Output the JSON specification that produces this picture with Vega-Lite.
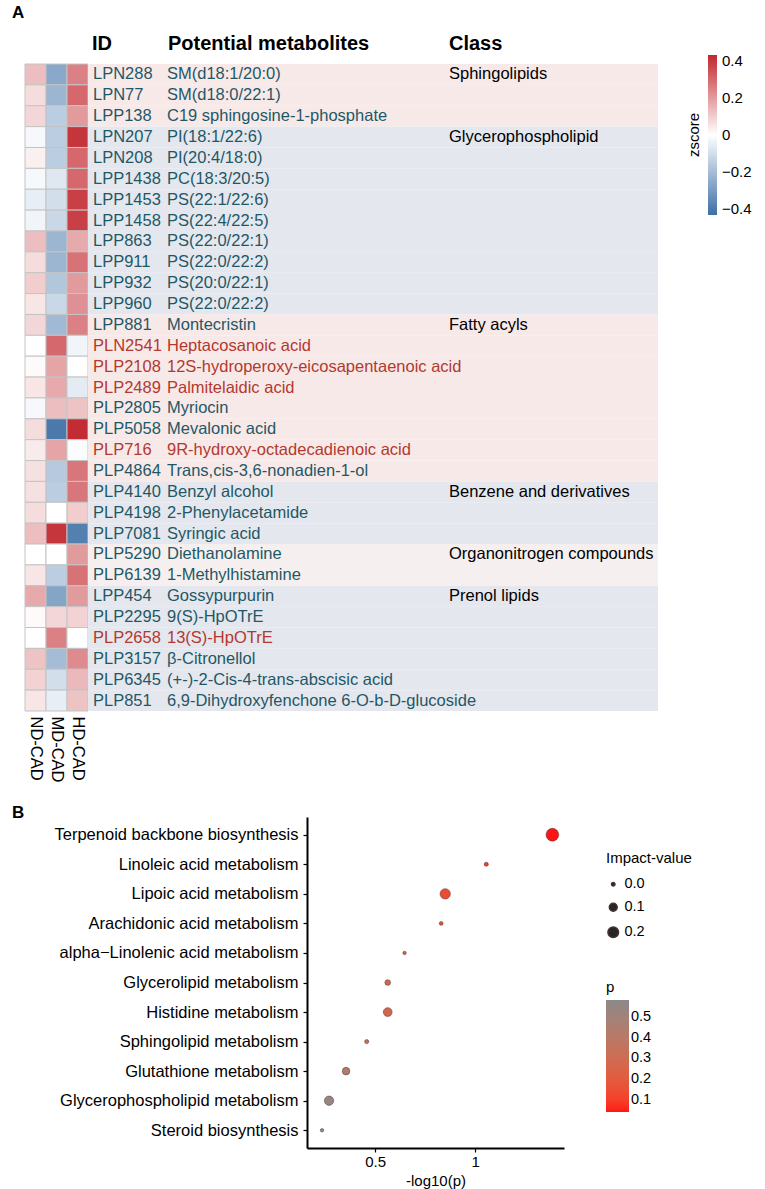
{
  "$schema": "https://vega.github.io/schema/vega-lite/v6.json",
  "padding": {"left": 12, "top": 4, "right": 2, "bottom": 2},
  "background": "white",
  "config": {
    "font": "Liberation Sans",
    "view": {"stroke": null},
    "axis": {"labelFont": "Liberation Sans", "titleFont": "Liberation Sans", "grid": false},
    "legend": {"labelFont": "Liberation Sans", "titleFont": "Liberation Sans"},
    "title": {"font": "Liberation Sans", "color": "black"}
  },
  "datasets": {
    "mets": [
      {"id": "LPN288", "name": "SM(d18:1/20:0)", "class": "Sphingolipids", "hl": "N", "ND-CAD": 0.13, "MD-CAD": -0.26, "HD-CAD": 0.25},
      {"id": "LPN77", "name": "SM(d18:0/22:1)", "class": "Sphingolipids", "hl": "N", "ND-CAD": 0.07, "MD-CAD": -0.22, "HD-CAD": 0.30},
      {"id": "LPP138", "name": "C19 sphingosine-1-phosphate", "class": "Sphingolipids", "hl": "N", "ND-CAD": 0.08, "MD-CAD": -0.15, "HD-CAD": 0.20},
      {"id": "LPN207", "name": "PI(18:1/22:6)", "class": "Glycerophospholipid", "hl": "N", "ND-CAD": -0.02, "MD-CAD": -0.15, "HD-CAD": 0.40},
      {"id": "LPN208", "name": "PI(20:4/18:0)", "class": "Glycerophospholipid", "hl": "N", "ND-CAD": 0.03, "MD-CAD": -0.15, "HD-CAD": 0.30},
      {"id": "LPP1438", "name": "PC(18:3/20:5)", "class": "Glycerophospholipid", "hl": "N", "ND-CAD": -0.02, "MD-CAD": -0.07, "HD-CAD": 0.30},
      {"id": "LPP1453", "name": "PS(22:1/22:6)", "class": "Glycerophospholipid", "hl": "N", "ND-CAD": -0.05, "MD-CAD": -0.10, "HD-CAD": 0.38},
      {"id": "LPP1458", "name": "PS(22:4/22:5)", "class": "Glycerophospholipid", "hl": "N", "ND-CAD": -0.03, "MD-CAD": -0.12, "HD-CAD": 0.38},
      {"id": "LPP863", "name": "PS(22:0/22:1)", "class": "Glycerophospholipid", "hl": "N", "ND-CAD": 0.13, "MD-CAD": -0.22, "HD-CAD": 0.17},
      {"id": "LPP911", "name": "PS(22:0/22:2)", "class": "Glycerophospholipid", "hl": "N", "ND-CAD": 0.07, "MD-CAD": -0.22, "HD-CAD": 0.28},
      {"id": "LPP932", "name": "PS(20:0/22:1)", "class": "Glycerophospholipid", "hl": "N", "ND-CAD": 0.10, "MD-CAD": -0.17, "HD-CAD": 0.20},
      {"id": "LPP960", "name": "PS(22:0/22:2)", "class": "Glycerophospholipid", "hl": "N", "ND-CAD": 0.05, "MD-CAD": -0.12, "HD-CAD": 0.22},
      {"id": "LPP881", "name": "Montecristin", "class": "Fatty acyls", "hl": "N", "ND-CAD": 0.08, "MD-CAD": -0.21, "HD-CAD": 0.25},
      {"id": "PLN2541", "name": "Heptacosanoic acid", "class": "Fatty acyls", "hl": "Y", "ND-CAD": 0.0, "MD-CAD": 0.30, "HD-CAD": -0.03},
      {"id": "PLP2108", "name": "12S-hydroperoxy-eicosapentaenoic acid", "class": "Fatty acyls", "hl": "Y", "ND-CAD": 0.01, "MD-CAD": 0.18, "HD-CAD": 0.0},
      {"id": "PLP2489", "name": "Palmitelaidic acid", "class": "Fatty acyls", "hl": "Y", "ND-CAD": 0.05, "MD-CAD": 0.17, "HD-CAD": -0.06},
      {"id": "PLP2805", "name": "Myriocin", "class": "Fatty acyls", "hl": "N", "ND-CAD": -0.02, "MD-CAD": 0.13, "HD-CAD": 0.12},
      {"id": "PLP5058", "name": "Mevalonic acid", "class": "Fatty acyls", "hl": "N", "ND-CAD": 0.07, "MD-CAD": -0.40, "HD-CAD": 0.42},
      {"id": "PLP716", "name": "9R-hydroxy-octadecadienoic acid", "class": "Fatty acyls", "hl": "Y", "ND-CAD": 0.04, "MD-CAD": 0.18, "HD-CAD": -0.01},
      {"id": "PLP4864", "name": "Trans,cis-3,6-nonadien-1-ol", "class": "Fatty acyls", "hl": "N", "ND-CAD": 0.06, "MD-CAD": -0.16, "HD-CAD": 0.27},
      {"id": "PLP4140", "name": "Benzyl alcohol", "class": "Benzene and derivatives", "hl": "N", "ND-CAD": 0.06, "MD-CAD": -0.15, "HD-CAD": 0.27},
      {"id": "PLP4198", "name": "2-Phenylacetamide", "class": "Benzene and derivatives", "hl": "N", "ND-CAD": 0.07, "MD-CAD": 0.0, "HD-CAD": 0.10},
      {"id": "PLP7081", "name": "Syringic acid", "class": "Benzene and derivatives", "hl": "N", "ND-CAD": 0.13, "MD-CAD": 0.40, "HD-CAD": -0.38},
      {"id": "PLP5290", "name": "Diethanolamine", "class": "Organonitrogen compounds", "hl": "N", "ND-CAD": 0.0, "MD-CAD": 0.0, "HD-CAD": 0.20},
      {"id": "PLP6139", "name": "1-Methylhistamine", "class": "Organonitrogen compounds", "hl": "N", "ND-CAD": 0.05, "MD-CAD": -0.15, "HD-CAD": 0.28},
      {"id": "LPP454", "name": "Gossypurpurin", "class": "Prenol lipids", "hl": "N", "ND-CAD": 0.17, "MD-CAD": -0.27, "HD-CAD": 0.20},
      {"id": "PLP2295", "name": "9(S)-HpOTrE", "class": "Prenol lipids", "hl": "N", "ND-CAD": 0.01, "MD-CAD": 0.08, "HD-CAD": 0.09},
      {"id": "PLP2658", "name": "13(S)-HpOTrE", "class": "Prenol lipids", "hl": "Y", "ND-CAD": 0.0, "MD-CAD": 0.25, "HD-CAD": 0.0},
      {"id": "PLP3157", "name": "β-Citronellol", "class": "Prenol lipids", "hl": "N", "ND-CAD": 0.12, "MD-CAD": -0.20, "HD-CAD": 0.23},
      {"id": "PLP6345", "name": "(+-)-2-Cis-4-trans-abscisic acid", "class": "Prenol lipids", "hl": "N", "ND-CAD": 0.09, "MD-CAD": -0.10, "HD-CAD": 0.14},
      {"id": "PLP851", "name": "6,9-Dihydroxyfenchone 6-O-b-D-glucoside", "class": "Prenol lipids", "hl": "N", "ND-CAD": 0.05, "MD-CAD": -0.05, "HD-CAD": 0.12}
    ],
    "path": [
      {"pathway": "Terpenoid backbone biosynthesis", "neglogp": 1.385, "p": 0.041, "impact": 0.30},
      {"pathway": "Linoleic acid metabolism", "neglogp": 1.055, "p": 0.088, "impact": 0.01},
      {"pathway": "Lipoic acid metabolism", "neglogp": 0.85, "p": 0.141, "impact": 0.19},
      {"pathway": "Arachidonic acid metabolism", "neglogp": 0.83, "p": 0.148, "impact": 0.005},
      {"pathway": "alpha−Linolenic acid metabolism", "neglogp": 0.647, "p": 0.225, "impact": 0.0},
      {"pathway": "Glycerolipid metabolism", "neglogp": 0.563, "p": 0.274, "impact": 0.04},
      {"pathway": "Histidine metabolism", "neglogp": 0.563, "p": 0.274, "impact": 0.13},
      {"pathway": "Sphingolipid metabolism", "neglogp": 0.458, "p": 0.348, "impact": 0.01},
      {"pathway": "Glutathione metabolism", "neglogp": 0.355, "p": 0.442, "impact": 0.09},
      {"pathway": "Glycerophospholipid metabolism", "neglogp": 0.27, "p": 0.537, "impact": 0.15},
      {"pathway": "Steroid biosynthesis", "neglogp": 0.235, "p": 0.582, "impact": 0.0}
    ]
  },
  "spacing": 22,
  "resolve": {"scale": {"color": "independent", "size": "independent"}, "legend": {"color": "independent", "size": "independent"}},
  "vconcat": [
    {
      "title": {"text": "A", "anchor": "start", "frame": "group", "dx": -13, "fontSize": 17, "fontWeight": "bold", "offset": 12},
      "bounds": "flush",
      "spacing": 0,
      "hconcat": [
        {
          "width": 63,
          "height": 647,
          "data": {"name": "mets"},
          "transform": [{"fold": ["ND-CAD", "MD-CAD", "HD-CAD"], "as": ["group", "z"]}],
          "mark": {"type": "rect", "stroke": "#c4c4c4", "strokeWidth": 1},
          "encoding": {
            "x": {"field": "group", "type": "nominal", "sort": ["ND-CAD", "MD-CAD", "HD-CAD"], "scale": {"paddingInner": 0, "paddingOuter": 0},
                  "axis": {"title": null, "labelAngle": 90, "domain": false, "ticks": false, "labelFontSize": 16.5, "labelColor": "black", "labelPadding": 5}},
            "y": {"field": "id", "type": "nominal", "sort": null, "scale": {"paddingInner": 0, "paddingOuter": 0}, "axis": null},
            "color": {"field": "z", "type": "quantitative",
                      "scale": {"domain": [-0.43, 0, 0.43], "range": ["#3d6fa6", "#ffffff", "#c1272d"], "interpolate": "rgb"},
                      "legend": {"title": "zscore", "titleOrient": "left", "titleAnchor": "middle", "titleFontSize": 15, "titleFontWeight": "normal", "titleColor": "black",
                                 "gradientLength": 160, "gradientThickness": 9, "gradientStrokeWidth": 0, "labelFontSize": 15, "labelColor": "black", "labelOffset": 5,
                                 "values": [-0.4, -0.2, 0, 0.2, 0.4], "format": "~g", "orient": "none", "legendX": 662, "legendY": -9}}
          }
        },
        {
          "width": 74,
          "height": 647,
          "data": {"name": "mets"},
          "title": {"text": "ID", "anchor": "start", "frame": "group", "dx": 4, "fontSize": 20, "fontWeight": "bold", "offset": 10},
          "encoding": {"y": {"field": "id", "type": "nominal", "sort": null, "scale": {"paddingInner": 0, "paddingOuter": 0}, "axis": null}},
          "layer": [
            {"mark": {"type": "rect"},
             "encoding": {"fill": {"condition": [{"test": "datum['class'] === 'Sphingolipids' || datum['class'] === 'Fatty acyls'", "value": "#f8e9e9"}, {"test": "datum['class'] === 'Organonitrogen compounds'", "value": "#f6efef"}], "value": "#e5e7ee"}}},
            {"mark": {"type": "text", "align": "left", "baseline": "middle", "dx": 5, "fontSize": 16.5},
             "encoding": {"x": {"datum": 0, "type": "quantitative", "scale": {"domain": [0, 1]}, "axis": null},
                          "text": {"field": "id"},
                          "color": {"condition": {"test": "datum.hl === 'Y'", "value": "#b2392e"}, "value": "#1e5866"}}}
          ]
        },
        {
          "width": 320,
          "height": 647,
          "data": {"name": "mets"},
          "title": {"text": "Potential metabolites", "anchor": "start", "frame": "group", "dx": 6, "fontSize": 20, "fontWeight": "bold", "offset": 10},
          "encoding": {"y": {"field": "id", "type": "nominal", "sort": null, "scale": {"paddingInner": 0, "paddingOuter": 0}, "axis": null}},
          "layer": [
            {"mark": {"type": "rect"},
             "encoding": {"fill": {"condition": [{"test": "datum['class'] === 'Sphingolipids' || datum['class'] === 'Fatty acyls'", "value": "#f8e9e9"}, {"test": "datum['class'] === 'Organonitrogen compounds'", "value": "#f6efef"}], "value": "#e5e7ee"}}},
            {"mark": {"type": "text", "align": "left", "baseline": "middle", "dx": 5, "fontSize": 16.5, "limit": 400},
             "encoding": {"x": {"datum": 0, "type": "quantitative", "scale": {"domain": [0, 1]}, "axis": null},
                          "text": {"field": "name"},
                          "color": {"condition": {"test": "datum.hl === 'Y'", "value": "#b2392e"}, "value": "#1e5866"}}}
          ]
        },
        {
          "width": 176,
          "height": 647,
          "data": {"name": "mets"},
          "transform": [{"window": [{"op": "row_number", "as": "rn"}], "groupby": ["class"]}],
          "title": {"text": "Class", "anchor": "start", "frame": "group", "dx": -33, "fontSize": 20, "fontWeight": "bold", "offset": 10},
          "encoding": {"y": {"field": "id", "type": "nominal", "sort": null, "scale": {"paddingInner": 0, "paddingOuter": 0}, "axis": null}},
          "layer": [
            {"mark": {"type": "rect"},
             "encoding": {"fill": {"condition": [{"test": "datum['class'] === 'Sphingolipids' || datum['class'] === 'Fatty acyls'", "value": "#f8e9e9"}, {"test": "datum['class'] === 'Organonitrogen compounds'", "value": "#f6efef"}], "value": "#e5e7ee"}}},
            {"mark": {"type": "text", "align": "left", "baseline": "middle", "dx": -33, "fontSize": 16.5, "color": "black", "limit": 300},
             "encoding": {"x": {"datum": 0, "type": "quantitative", "scale": {"domain": [0, 1]}, "axis": null},
                          "text": {"condition": {"test": "datum.rn === 1", "field": "class"}, "value": ""}}}
          ]
        }
      ]
    },
    {
      "title": {"text": "B", "anchor": "start", "frame": "group", "dx": -13, "fontSize": 17, "fontWeight": "bold", "offset": -5},
      "bounds": "flush",
      "spacing": 0,
      "hconcat": [
        {
          "width": 282,
          "height": 331,
          "data": {"name": "path"},
          "mark": {"type": "point", "opacity": 0},
          "encoding": {}
        },
        {
          "width": 257,
          "height": 331,
          "data": {"name": "path"},
          "mark": {"type": "circle", "opacity": 0.92, "stroke": "#3a2020", "strokeWidth": 0.8, "strokeOpacity": 0.6},
          "encoding": {
            "y": {"field": "pathway", "type": "nominal", "sort": null, "scale": {"type": "point", "padding": 0.6},
                  "axis": {"title": null, "labelFontSize": 16.5, "labelColor": "black", "labelLimit": 400, "domainColor": "black", "domainWidth": 2, "tickColor": "black", "tickSize": 4, "tickWidth": 1.2, "labelPadding": 5}},
            "x": {"field": "neglogp", "type": "quantitative", "scale": {"domain": [0.16, 1.443], "zero": false, "nice": false},
                  "axis": {"title": "-log10(p)", "values": [0.5, 1], "format": "~g", "labelFontSize": 15, "labelColor": "black", "domainColor": "black", "domainWidth": 2, "tickColor": "black", "tickSize": 4, "tickWidth": 1.2, "titleFontSize": 15, "titleFontWeight": "normal", "titleColor": "black", "titlePadding": 4}},
            "size": {"field": "impact", "type": "quantitative", "scale": {"domain": [0, 0.2], "range": [12, 113]},
                     "legend": {"title": "Impact-value", "orient": "none", "legendX": 581, "legendY": 34, "values": [0, 0.1, 0.2], "format": ".1f",
                                "titleFontSize": 15, "titleFontWeight": "normal", "titleColor": "black", "titlePadding": 11, "labelFontSize": 14.5, "labelColor": "black", "rowPadding": 8,
                                "encode": {"symbols": {"update": {"fill": {"value": "#444444"}, "stroke": {"value": "black"}, "strokeWidth": {"value": 1}, "opacity": {"value": 1}}}}}},
            "color": {"field": "p", "type": "quantitative", "scale": {"range": ["#ff0000", "#7f7f7f"], "interpolate": "lab"},
                      "legend": {"title": "p", "orient": "none", "legendX": 581, "legendY": 163, "gradientLength": 112, "gradientThickness": 23, "gradientStrokeWidth": 0,
                                 "values": [0.1, 0.2, 0.3, 0.4, 0.5], "format": ".1f", "titleFontSize": 15, "titleFontWeight": "normal", "titleColor": "black", "labelFontSize": 14.5, "labelColor": "black"}}
          }
        }
      ]
    }
  ]
}
